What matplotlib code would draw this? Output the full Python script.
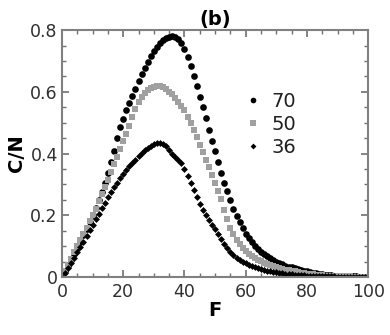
import numpy as np
from matplotlib import pyplot as plt
from matplotlib.ticker import MultipleLocator, FixedFormatter, FixedLocator

# F = 0, 1, ..., 100
F = np.arange(0, 101)

# C/N values, one per integer F
cn70 = [0.000, 0.018, 0.037, 0.056, 0.075, 0.095, 0.115, 0.136, 0.157, 0.178,
        0.200, 0.225, 0.250, 0.277, 0.305, 0.338, 0.372, 0.410, 0.450, 0.485,
        0.513, 0.540, 0.565, 0.588, 0.610, 0.635, 0.657, 0.677, 0.697, 0.715,
        0.732, 0.747, 0.758, 0.767, 0.774, 0.778, 0.780, 0.778, 0.770, 0.757,
        0.738, 0.712, 0.684, 0.653, 0.619, 0.585, 0.551, 0.515, 0.478, 0.442,
        0.407, 0.372, 0.338, 0.306, 0.280, 0.250, 0.222, 0.198, 0.177, 0.158,
        0.141, 0.126, 0.113, 0.101, 0.091, 0.082, 0.074, 0.067, 0.061, 0.055,
        0.050, 0.045, 0.041, 0.037, 0.034, 0.031, 0.028, 0.025, 0.022, 0.020,
        0.018, 0.016, 0.014, 0.012, 0.011, 0.009, 0.008, 0.007, 0.006, 0.005,
        0.004, 0.004, 0.003, 0.003, 0.002, 0.002, 0.002, 0.001, 0.001, 0.001,
        0.001]

cn50 = [0.000, 0.020, 0.040, 0.060, 0.080, 0.100, 0.120, 0.140, 0.160, 0.180,
        0.200, 0.222, 0.245, 0.268, 0.292, 0.316, 0.340, 0.365, 0.390, 0.415,
        0.440, 0.465, 0.490, 0.520, 0.545, 0.567, 0.583, 0.596, 0.605, 0.611,
        0.615, 0.618, 0.618, 0.616, 0.610, 0.600, 0.592, 0.580, 0.567, 0.554,
        0.540, 0.520, 0.500, 0.477, 0.454, 0.428, 0.404, 0.380, 0.356, 0.331,
        0.305, 0.280, 0.252, 0.218, 0.188, 0.160, 0.138, 0.120, 0.106, 0.094,
        0.084, 0.076, 0.069, 0.062, 0.056, 0.051, 0.046, 0.042, 0.038, 0.035,
        0.032, 0.029, 0.027, 0.024, 0.022, 0.020, 0.018, 0.016, 0.014, 0.013,
        0.011, 0.010, 0.009, 0.008, 0.007, 0.006, 0.005, 0.005, 0.004, 0.003,
        0.003, 0.003, 0.002, 0.002, 0.002, 0.001, 0.001, 0.001, 0.001, 0.001,
        0.001]

cn36 = [0.000, 0.014, 0.030, 0.046, 0.063, 0.080, 0.097, 0.115, 0.133, 0.151,
        0.169, 0.187, 0.205, 0.223, 0.241, 0.258, 0.275, 0.291, 0.306, 0.320,
        0.334, 0.347, 0.359, 0.370, 0.380, 0.392, 0.402, 0.411, 0.419, 0.426,
        0.431, 0.434, 0.435, 0.432, 0.424, 0.413, 0.400, 0.390, 0.380, 0.368,
        0.350, 0.329, 0.305, 0.282, 0.259, 0.237, 0.218, 0.200, 0.184, 0.168,
        0.156, 0.140, 0.124, 0.108, 0.094, 0.081, 0.070, 0.062, 0.055, 0.049,
        0.044, 0.040, 0.036, 0.032, 0.029, 0.026, 0.024, 0.021, 0.019, 0.017,
        0.016, 0.014, 0.013, 0.011, 0.010, 0.009, 0.008, 0.007, 0.006, 0.006,
        0.005, 0.004, 0.004, 0.003, 0.003, 0.003, 0.002, 0.002, 0.002, 0.002,
        0.001, 0.001, 0.001, 0.001, 0.001, 0.001, 0.001, 0.001, 0.001, 0.001,
        0.001]

series_labels = ['70', '50', '36']
xticks = [0, 20, 40, 60, 80, 100]
yticks = [0, 0.2, 0.4, 0.6, 0.8]
yticklabels = ['0', '0.2', '0.4', '0.6', '0.8']

fig = plt.figure(figsize=(3.9, 3.35), dpi=100)
ax = fig.add_axes([0.159, 0.173, 0.785, 0.737])

ax.plot(F, cn70, 'o', color='black', markersize=4.8, markeredgewidth=0, label=series_labels[0])
ax.plot(F, cn50, 's', color='#a0a0a0', markersize=4.3, markeredgewidth=0, label=series_labels[1])
ax.plot(F, cn36, 'D', color='black', markersize=3.5, markeredgewidth=0, label=series_labels[2])

ax.set_xlim(0, 100)
ax.set_ylim(0, 0.8)

ax.xaxis.set_major_locator(FixedLocator(xticks))
ax.xaxis.set_minor_locator(MultipleLocator(5))
ax.yaxis.set_major_locator(FixedLocator(yticks))
ax.yaxis.set_major_formatter(FixedFormatter(yticklabels))
ax.yaxis.set_minor_locator(MultipleLocator(0.05))

ax.tick_params(which='both', direction='in', top=True, right=True, color='#707070')
ax.tick_params(which='major', length=5, width=1.2, labelsize=12.5, labelcolor='#303030')
ax.tick_params(which='minor', length=3, width=1.0)
ax.tick_params(axis='x', which='major', pad=4)
ax.tick_params(axis='y', which='major', pad=3)
for spine in ax.spines.values():
	spine.set_edgecolor('#808080')
	spine.set_linewidth(1.5)

ax.set_xlabel('F', fontsize=14, fontweight='bold', labelpad=0)
ax.set_ylabel('C/N', fontsize=14, fontweight='bold', labelpad=3)
ax.set_title('(b)', fontsize=14, fontweight='bold', pad=4)

leg = ax.legend(loc='upper left', bbox_to_anchor=(0.57, 0.79), frameon=False, fontsize=14,
	handlelength=0.7, handletextpad=0.6, labelspacing=0.22, borderpad=0, markerscale=0.85)
for t in leg.get_texts():
	t.set_color('#202020')

plt.savefig('out.png', dpi=100)
